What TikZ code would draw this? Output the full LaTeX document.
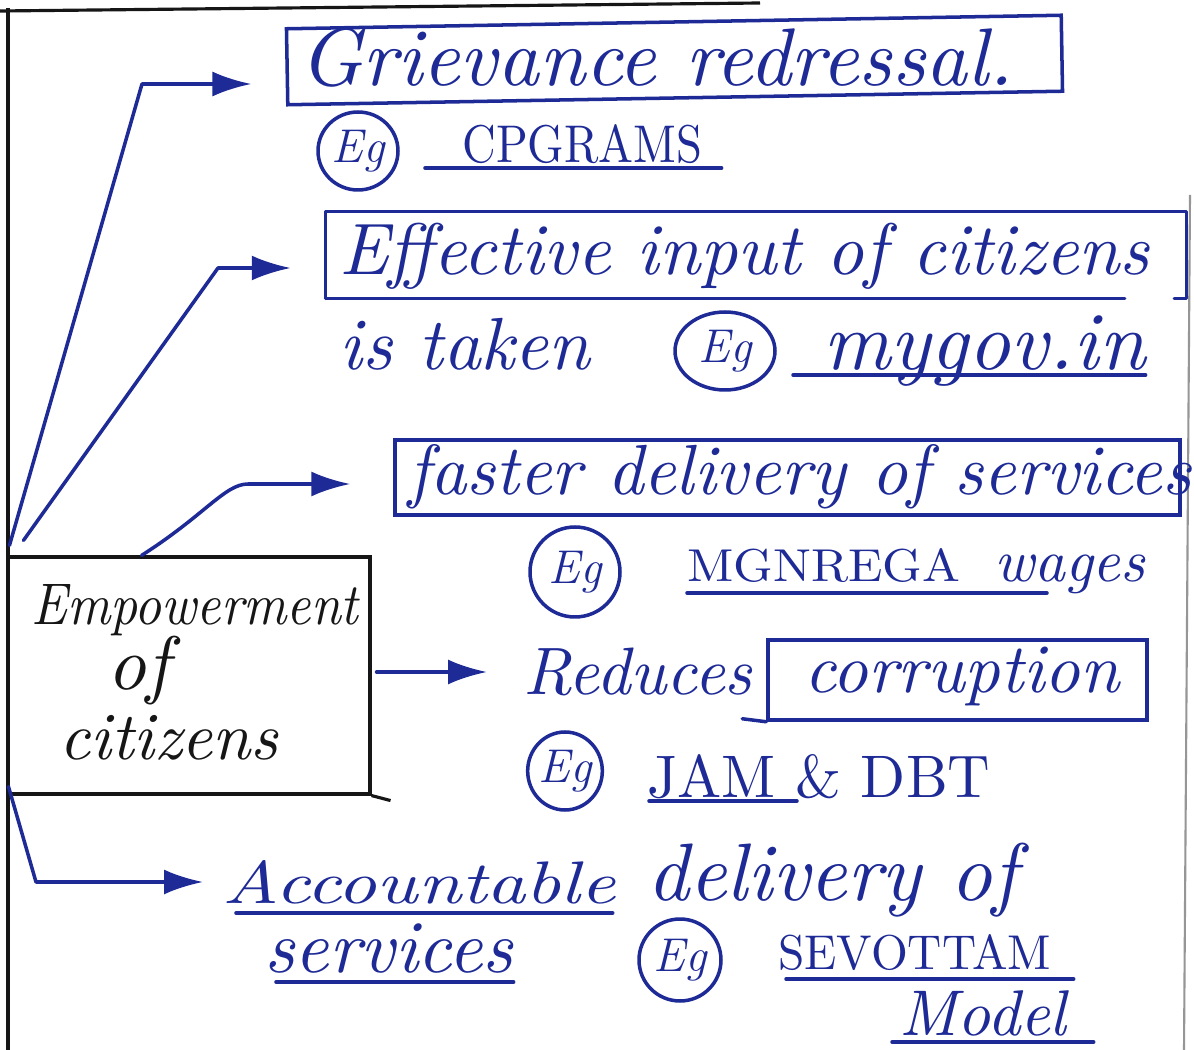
\documentclass[tikz,border=0pt]{standalone}
\usetikzlibrary{arrows.meta,calc,shapes.geometric}
\definecolor{ink}{RGB}{30,42,150}
\definecolor{pencil}{RGB}{22,22,22}
\definecolor{pageedge}{RGB}{150,150,150}
% text scaled to a given width in cm
\newcommand\hw[2]{\resizebox{#1cm}{!}{#2}}
% text scaled to a given width and height in cm
\newcommand\hwh[3]{\resizebox{#1cm}{#2cm}{#3}}

\begin{document}
\begin{tikzpicture}[x=0.02cm,y=-0.02cm,
  ink line/.style={draw=ink,line width=2pt,line cap=round,line join=round},
  conn/.style={ink line,-{Latex[length=0.78cm,width=0.5cm]}},
  word/.style={inner sep=0pt,anchor=base west,text=ink,font=\itshape},
  caps/.style={word,font=\upshape},
  blackword/.style={word,text=pencil},
  boxed/.style={draw=ink,line width=2pt,inner sep=0pt,rectangle},
  egmark/.style={ellipse,draw=ink,line width=2pt,inner sep=0pt,text=ink,
    font=\itshape\fontsize{27}{27}\selectfont}
]
\useasboundingbox (0,0) rectangle (1194,1050);
\fill[white] (0,0) rectangle (1194,1050);

% page frame
\draw[pencil,line width=1.8pt] (0,11) -- (760,3);
\draw[pencil,line width=1.8pt] (8,8) -- (8,1050);
\draw[pageedge,line width=1.2pt] (1190,195) -- (1184,1050);

% central box
\node[draw=pencil,line width=1.8pt,minimum width=7.24cm,minimum height=4.74cm,inner sep=0pt] (emp) at (189,675.5) {};
\draw[pencil,line width=1.8pt] (emp.south east) -- ++(19,5);
\node[blackword] (empA) at (31,625) {\hwh{6.54}{0.8}{Empowerment}};
\node[blackword] (empB) at (107,690) {\hw{1.24}{of}};
\node[blackword] (empC) at (59,760) {\hw{4.38}{citizens}};

% 1: grievance redressal
\node[boxed,minimum width=15.5cm,minimum height=1.52cm,rotate=1] (g1) at (674.5,60) {};
\node[word] (g1t) at (299,86) {\hw{14.28}{Grievance redressal.}};
\node[egmark,minimum width=1.6cm,minimum height=1.56cm] (eg1) at (358,151) {Eg};
\node[caps] (cp) at (462,163) {\hwh{4.8}{0.76}{CPGRAMS}};
\draw[ink line] ($(cp.base west)+(-37,5)$) -- ($(cp.base east)+(19,5)$);

% 2: effective input
\node[minimum width=17.2cm,minimum height=1.72cm,inner sep=0pt] (b2) at (756,255) {};
\draw[ink line] (b2.south west) -- (b2.north west) -- (b2.north east) -- (b2.south east) -- ++(-12,0);
\draw[ink line] (b2.south west) -- ++(799,0);
\node[word] (t2) at (339,275) {\hw{16.2}{Effective input of citizens}};
\node[word] (t2b) at (339,370) {\hw{5.02}{is taken}};
\node[egmark,minimum width=2cm,minimum height=1.56cm] (eg2) at (725,351) {Eg};
\node[word] (my) at (823,370) {\hw{6.44}{mygov.in}};
\draw[ink line] ($(my.base west)+(-30,5)$) -- ($(my.base east)+(0,5)$);

% 3: faster delivery
\node[boxed,minimum width=15.7cm,minimum height=1.5cm] (b3) at (787.5,477.5) {};
\node[word] (t3) at (408,495) {\hw{15.66}{faster delivery of services}};
\node[egmark,minimum width=1.8cm,minimum height=1.8cm] (eg3) at (575,572) {Eg};
\node[caps] (mg) at (687,582) {\hwh{5.46}{0.66}{MGNREGA}};
\node[word] (wg) at (994,582) {\hw{3.02}{wages}};
\draw[ink line] ($(mg.base west)+(0,11)$) -- ++(360,0);

% 4: corruption
\node[word] (red) at (523,695) {\hw{4.58}{Reduces}};
\node[boxed,minimum width=7.58cm,minimum height=1.6cm] (b4) at (957.5,680) {};
\draw[ink line] (b4.south west) -- ++(-24,-3);
\node[word] (cor) at (804,693) {\hw{6.3}{corruption}};
\node[egmark,minimum width=1.32cm,minimum height=1.56cm] (eg4) at (565,771) {Eg};
\node[caps] (jam) at (647,797) {\hwh{6.86}{0.86}{JAM \& DBT}};
\draw[ink line] ($(jam.base west)+(2,4)$) -- ++(148,0);

% 5: accountable delivery
\node[word] (acc) at (222,903) {\hwh{7.86}{0.86}{Accountable}};
\node[word] (del) at (647,900) {\hw{7.4}{delivery of}};
\node[word] (ser) at (264,972) {\hw{4.98}{services}};
\node[egmark,minimum width=1.64cm,minimum height=1.64cm] (eg5) at (680,960) {Eg};
\node[caps] (sev) at (778,969) {\hwh{5.46}{0.7}{SEVOTTAM}};
\node[word] (mod) at (899,1035) {\hw{3.34}{Model}};
\draw[ink line] ($(acc.base west)+(14,10)$) -- ($(acc.base east)+(-3,10)$);
\draw[ink line] ($(ser.base west)+(12,10)$) -- ($(ser.base east)+(0,10)$);
\draw[ink line] ($(sev.base west)+(8,10)$) -- ($(sev.base east)+(22,10)$);
\draw[ink line] ($(mod.base west)+(-7,7)$) -- ($(mod.base east)+(27,7)$);

% connectors
\coordinate (k1) at (142,84);
\draw[conn,shorten >=0.68cm] ($(emp.north west)+(3,-10)$) -- (k1) -- (k1 -| g1.west);
\coordinate (k2) at (218,268);
\draw[conn,shorten >=0.7cm] ($(emp.north west)+(17,-15)$) -- (k2) -- (k2 -| b2.west);
\coordinate (k3) at (248,484);
\draw[conn,shorten >=0.86cm] ($(emp.north west)!0.37!(emp.north east)$) .. controls (205,515) and (225,484) .. (k3) -- (k3 -| b3.west);
\coordinate (s4) at ([xshift=0.1cm,yshift=0.07cm]emp.east);
\draw[conn,shorten >=0.72cm] (s4) -- (s4 -| red.west);
\coordinate (k5) at (36,882);
\draw[conn,shorten >=0.38cm] ($(emp.south west)+(2,-9)$) -- (k5) -- (k5 -| acc.west);
\end{tikzpicture}
\end{document}
